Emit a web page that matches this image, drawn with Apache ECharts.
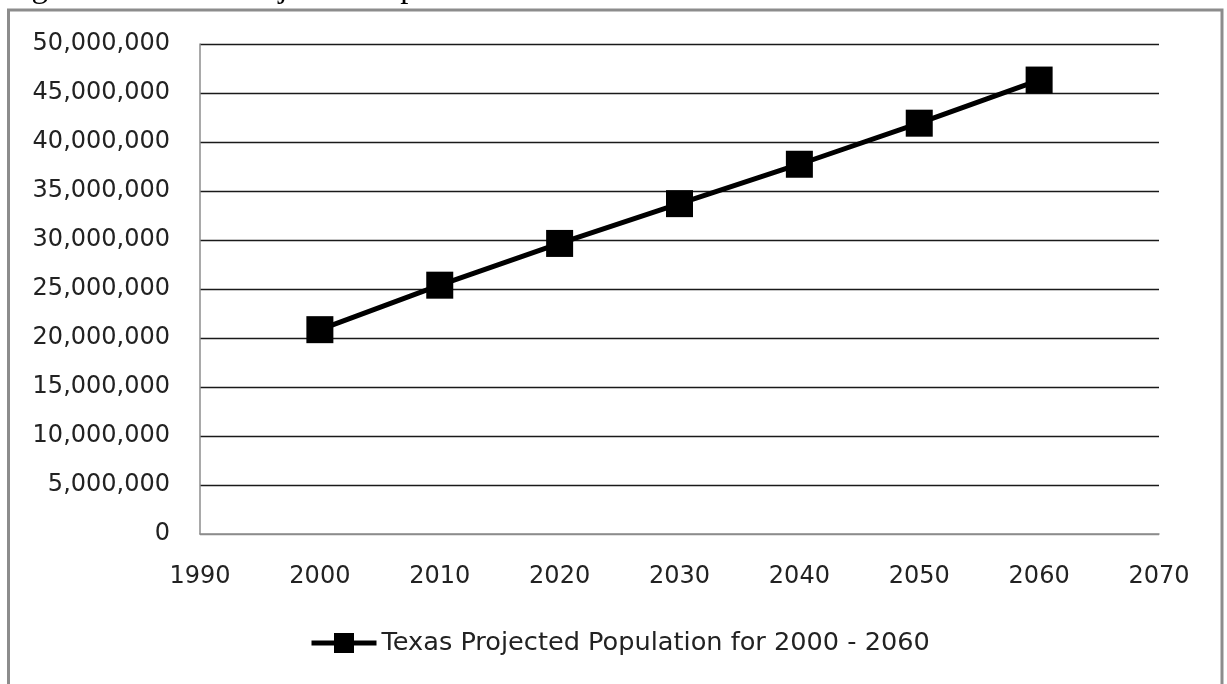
<!DOCTYPE html>
<html>
<head>
<meta charset="utf-8">
<title>Texas Projected Population</title>
<script src="https://cdn.jsdelivr.net/npm/echarts@6/dist/echarts.min.js"></script>
<style>
  html, body { margin: 0; padding: 0; background: #ffffff; }
  #chart { width: 1227px; height: 684px; }
</style>
</head>
<body>
<div id="chart"></div>
<script>
// Projection years and population values
const years = [2000, 2010, 2020, 2030, 2040, 2050, 2060];
const population = [20850000, 25390000, 29650000, 33710000, 37730000, 41920000, 46320000];
const seriesName = 'Texas Projected Population for 2000 - 2060';
const captionText = 'Figure 10. Texas Projected Population';

const FONT = '"DejaVu Sans", sans-serif';
const TEXT_COLOR = '#222222';

const chart = echarts.init(document.getElementById('chart'), null, { renderer: 'canvas' });

// First split line sits on the x axis and takes the axis grey
const gridColors = ['#8c8c8c'].concat(new Array(10).fill('#1a1a1a'));

chart.setOption({
  animation: false,
  backgroundColor: '#ffffff',
  graphic: [
    {
      // caption of the page above the chart frame, clipped by the top edge
      type: 'text',
      left: 4,
      top: -28,
      silent: true,
      style: {
        text: captionText,
        font: '33px "Liberation Serif", "Times New Roman", serif',
        fill: '#000000'
      }
    },
    {
      type: 'rect',
      silent: true,
      z: 100,
      shape: { x: 8.5, y: 10, width: 1213.5, height: 720 },
      style: { fill: 'none', stroke: '#8c8c8c', lineWidth: 3 }
    }
  ],
  grid: {
    left: 200,
    right: 68,
    top: 44,
    bottom: 150,
    containLabel: false
  },
  legend: {
    left: 309,
    top: 630,
    padding: 0,
    itemWidth: 65,
    itemHeight: 25,
    data: [seriesName],
    lineStyle: { width: 5, color: '#000000' },
    textStyle: { fontFamily: FONT, fontSize: 25.6, color: TEXT_COLOR }
  },
  xAxis: {
    type: 'value',
    min: 1990,
    max: 2070,
    interval: 10,
    axisLine: { show: true, lineStyle: { color: '#8c8c8c', width: 1.5 } },
    axisTick: { show: false },
    splitLine: { show: false },
    axisLabel: {
      margin: 31,
      fontFamily: FONT,
      fontSize: 24,
      color: TEXT_COLOR,
      formatter: (v) => String(v)
    }
  },
  yAxis: {
    type: 'value',
    min: 0,
    max: 50000000,
    interval: 5000000,
    axisLine: { show: true, lineStyle: { color: '#8c8c8c', width: 1.5 } },
    axisTick: { show: false },
    splitLine: { show: true, lineStyle: { color: gridColors, width: 1.3 } },
    axisLabel: {
      margin: 30,
      fontFamily: FONT,
      fontSize: 24,
      color: TEXT_COLOR,
      formatter: (v) => v.toLocaleString('en-US')
    }
  },
  series: [
    {
      name: seriesName,
      type: 'line',
      data: years.map((y, i) => [y, population[i]]),
      symbol: 'rect',
      symbolSize: 27,
      showAllSymbol: true,
      color: '#000000',
      itemStyle: { color: '#000000' },
      lineStyle: { color: '#000000', width: 5 },
      z: 3
    }
  ]
});
</script>
</body>
</html>
